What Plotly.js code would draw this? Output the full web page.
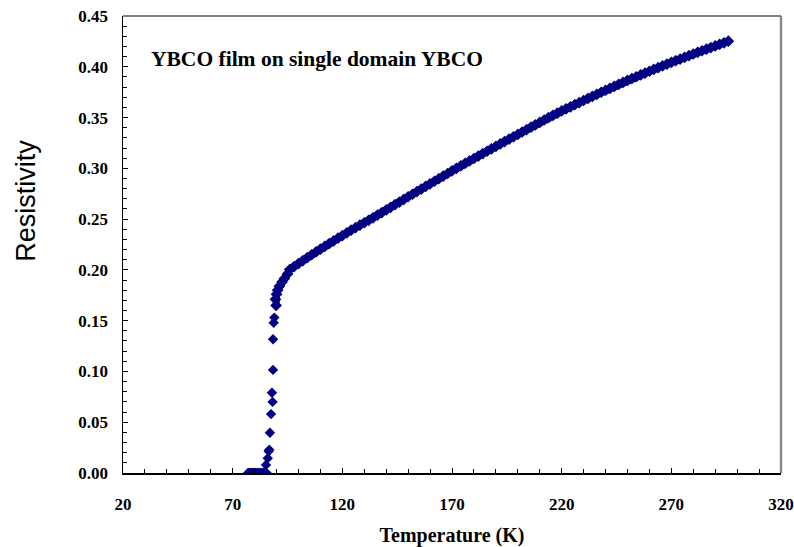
<!DOCTYPE html>
<html>
<head>
<meta charset="utf-8">
<script src="https://cdn.plot.ly/plotly-3.0.1.min.js"></script>
<style>html,body{margin:0;padding:0;background:#fff;}#chart{width:794px;height:547px;}</style>
</head>
<body>
<div id="chart"></div>
<script>
// Superconducting (zero resistance) points
const tempZero = [77, 77.5, 78, 78.5, 79, 79.5, 80, 80.5, 81, 81.5, 82, 82.5, 83, 83.5, 84, 84.5, 85, 85.5];
const rhoZero  = [0, 0, 0, 0, 0, 0, 0, 0, 0, 0, 0, 0, 0, 0, 0, 0, 0, 0];

// Transition region
const tempTrans = [85.2, 86.0, 86.4, 86.7, 87.0, 87.5, 88.2, 87.9, 88.4, 88.4, 88.7, 89.0];
const rhoTrans  = [0.008, 0.0145, 0.0213, 0.023, 0.0396, 0.058, 0.070, 0.079, 0.1015, 0.1317, 0.148, 0.153];

// Knee and normal-state region
const tempNormal = [89.8, 89.5, 90.0, 90.5, 91.3, 92.5, 93.6, 95.0, 96, 98, 100, 102, 104, 106, 108, 110, 112, 114, 116, 118, 120, 122, 124, 126, 128, 130, 132, 134, 136, 138, 140, 142, 144, 146, 148, 150, 152, 154, 156, 158, 160, 162, 164, 166, 168, 170, 172, 174, 176, 178, 180, 182, 184, 186, 188, 190, 192, 194, 196, 198, 200, 202, 204, 206, 208, 210, 212, 214, 216, 218, 220, 222, 224, 226, 228, 230, 232, 234, 236, 238, 240, 242, 244, 246, 248, 250, 252, 254, 256, 258, 260, 262, 264, 266, 268, 270, 272, 274, 276, 278, 280, 282, 284, 286, 288, 290, 292, 294, 296];
const rhoNormal  = [0.165, 0.171, 0.176, 0.180, 0.184, 0.188, 0.1915, 0.196, 0.2004, 0.2033, 0.2062, 0.2091, 0.2120, 0.2149, 0.2177, 0.2205, 0.2232, 0.2259, 0.2285, 0.2312, 0.2338, 0.2364, 0.2391, 0.2416, 0.2440, 0.2464, 0.2488, 0.2513, 0.2539, 0.2564, 0.2590, 0.2616, 0.2642, 0.2668, 0.2694, 0.2720, 0.2745, 0.2771, 0.2796, 0.2822, 0.2847, 0.2873, 0.2898, 0.2924, 0.2949, 0.2975, 0.3000, 0.3024, 0.3049, 0.3073, 0.3097, 0.3121, 0.3145, 0.3168, 0.3192, 0.3216, 0.3240, 0.3263, 0.3287, 0.3310, 0.3334, 0.3358, 0.3381, 0.3405, 0.3428, 0.3452, 0.3476, 0.3500, 0.3522, 0.3543, 0.3565, 0.3586, 0.3606, 0.3627, 0.3647, 0.3668, 0.3688, 0.3708, 0.3729, 0.3749, 0.3769, 0.3788, 0.3808, 0.3827, 0.3847, 0.3866, 0.3884, 0.3902, 0.3920, 0.3938, 0.3956, 0.3974, 0.3991, 0.4009, 0.4026, 0.4043, 0.4060, 0.4076, 0.4093, 0.4109, 0.4126, 0.4142, 0.4158, 0.4173, 0.4189, 0.4205, 0.4221, 0.4236, 0.4252];

const xTickVals = [20, 70, 120, 170, 220, 270, 320];
const xTickText = ['20', '70', '120', '170', '220', '270', '320'];

const serif = 'Liberation Serif, Times New Roman, serif';
const markerColor = '#000080';

const traces = [
  {
    x: tempZero.concat(tempTrans), y: rhoZero.concat(rhoTrans), type: 'scatter', mode: 'markers',
    marker: {symbol: 'diamond', size: 8, color: markerColor, line: {width: 0}},
    showlegend: false
  },
  {
    x: tempNormal, y: rhoNormal, type: 'scatter', mode: 'lines+markers',
    line: {color: markerColor, width: 7},
    marker: {symbol: 'diamond', size: 9, color: markerColor, line: {width: 0}},
    showlegend: false
  }
];

const layout = {
  width: 794, height: 547,
  margin: {l: 123, r: 13, t: 16, b: 74},
  paper_bgcolor: '#ffffff', plot_bgcolor: '#ffffff',
  showlegend: false,
  xaxis: {
    range: [20, 320], autorange: false,
    tickmode: 'array', tickvals: xTickVals, ticktext: xTickText,
    ticks: 'inside', ticklen: 5, tickwidth: 1, tickcolor: '#000',
    minor: {dtick: 10, tick0: 20, ticks: 'inside', ticklen: 4, tickcolor: '#000', showgrid: false},
    showline: true, linecolor: '#000', linewidth: 1.5,
    showgrid: false, zeroline: false,
    ticklabelstandoff: 15,
    tickfont: {family: serif, size: 17, color: '#000', weight: 'bold'},
    title: {text: '<b>Temperature (K)</b>', font: {family: serif, size: 20, color: '#000'}, standoff: 16}
  },
  yaxis: {
    range: [0, 0.45], autorange: false,
    tick0: 0, dtick: 0.05, tickformat: '.2f',
    ticks: 'inside', ticklen: 5, tickwidth: 1, tickcolor: '#000',
    minor: {dtick: 0.01, tick0: 0, ticks: 'inside', ticklen: 4, tickcolor: '#000', showgrid: false},
    showline: true, linecolor: '#000', linewidth: 1.5,
    showgrid: false, zeroline: false,
    ticklabelstandoff: 10,
    tickfont: {family: serif, size: 17, color: '#000', weight: 'bold'}
  },
  shapes: [
    {type: 'line', xref: 'paper', yref: 'paper', x0: 0, x1: 1, y0: 1, y1: 1, line: {color: '#000', width: 1}},
    {type: 'line', xref: 'paper', yref: 'paper', x0: 1, x1: 1, y0: 0, y1: 1, line: {color: '#888', width: 2.5}}
  ],
  annotations: [
    {text: '<b>YBCO film on single domain YBCO</b>', xref: 'paper', yref: 'paper', x: 0.039, y: 0.905,
     xanchor: 'left', yanchor: 'middle', showarrow: false, font: {family: serif, size: 21.5, color: '#000'}},
    {text: 'Resistivity', xref: 'paper', yref: 'paper', x: -0.148, y: 0.595,
     xanchor: 'center', yanchor: 'middle', textangle: -90, showarrow: false,
     font: {family: 'Liberation Sans, Arial, sans-serif', size: 27, color: '#000'}}
  ]
};

Plotly.newPlot('chart', traces, layout, {displayModeBar: false, staticPlot: true});
</script>
</body>
</html>
